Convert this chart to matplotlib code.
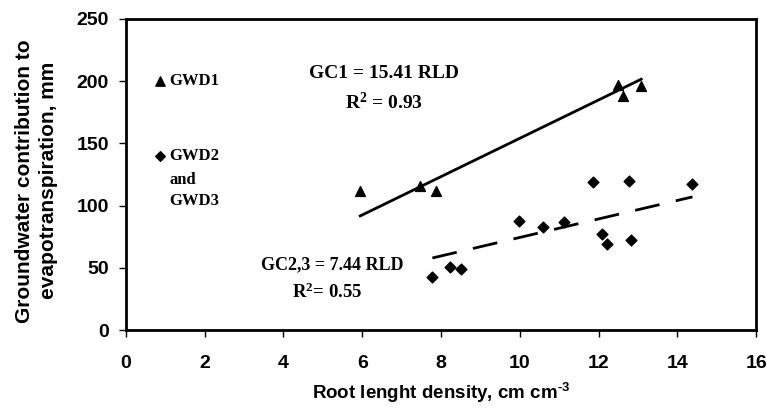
import matplotlib
matplotlib.use("Agg")
import matplotlib.pyplot as plt
import numpy as np

plt.rcParams['mathtext.fontset'] = 'custom'
plt.rcParams['mathtext.rm'] = 'Liberation Sans:bold'
plt.rcParams['mathtext.bf'] = 'Liberation Serif:bold'

# GWD1 (triangles)
gwd1_rld = [5.95, 7.47, 7.87, 12.49, 12.61, 13.08]
gwd1_gc = [112, 116, 112, 197, 188, 196]

# GWD2 and GWD3 (diamonds)
gwd23_rld = [7.78, 8.22, 8.50, 9.99, 10.59, 11.11, 11.86, 12.08, 12.22, 12.78, 12.83, 14.38]
gwd23_gc = [43, 51, 49, 88, 83, 87, 119, 77, 69, 120, 72, 117]

slope1 = 15.41
slope23 = 7.44

fig = plt.figure(figsize=(7.67, 4.12), dpi=100)
ax = fig.add_axes([0.164, 0.199, 0.822, 0.755])

ax.scatter(gwd1_rld, gwd1_gc, marker='^', s=50, color='black', zorder=3)
ax.scatter(gwd23_rld, gwd23_gc, marker='D', s=30, color='black', zorder=3)

x1 = np.array([min(gwd1_rld), max(gwd1_rld)])
ax.plot(x1, slope1 * x1, color='black', lw=2)
x23 = np.array([min(gwd23_rld), max(gwd23_rld)])
ax.plot(x23, slope23 * x23, color='black', lw=2, dashes=(9, 6))

serif = dict(family='Liberation Serif', fontweight='bold', color='black')
ax.text(6.56, 206.5, 'GC1 = 15.41 RLD', ha='center', va='center', fontsize=14, **serif)
ax.text(6.56, 183, r'$\mathbf{R^2}$ = 0.93', ha='center', va='center', fontsize=14, **serif)
ax.text(5.23, 52.3, 'GC2,3 = 7.44 RLD', ha='center', va='center', fontsize=13, **serif)
ax.text(5.10, 30, r'$\mathbf{R^2}$= 0.55', ha='center', va='center', fontsize=13.5, **serif)

# legend drawn by hand in data space
ax.scatter([0.86], [200], marker='^', s=45, color='black', clip_on=False)
ax.scatter([0.86], [139.5], marker='D', s=24, color='black', clip_on=False)
ax.text(1.1, 200, 'GWD1', ha='left', va='center', fontsize=12, **serif)
ax.text(1.1, 139.5, 'GWD2', ha='left', va='center', fontsize=12, **serif)
ax.text(1.1, 120.5, 'and', ha='left', va='center', fontsize=12, **serif)
ax.text(1.1, 103.5, 'GWD3', ha='left', va='center', fontsize=12, **serif)

ax.set_xlim(0, 16)
ax.set_ylim(0, 250)
ax.set_xticks(np.arange(0, 17, 2))
ax.set_yticks(np.arange(0, 251, 50))
for s in ax.spines.values():
    s.set_linewidth(2)
ax.tick_params(direction='out', length=5, width=1, labelsize=14)
ax.tick_params(axis='x', pad=13)
ax.tick_params(axis='y', pad=7)
for lab in ax.get_xticklabels() + ax.get_yticklabels():
    lab.set_family('Liberation Sans')
    lab.set_fontweight('bold')

ax.set_xlabel(r'Root lenght density, cm cm$^{\text{-}3}$', family='Liberation Sans',
              fontweight='bold', fontsize=13.5, labelpad=6)
ax.set_ylabel('Groundwater contribution to\nevapotranspiration, mm', family='Liberation Sans',
              fontweight='bold', fontsize=15, linespacing=1.3)
ax.yaxis.set_label_coords(-0.108, 0.48)

fig.savefig('out.png', dpi=100)
